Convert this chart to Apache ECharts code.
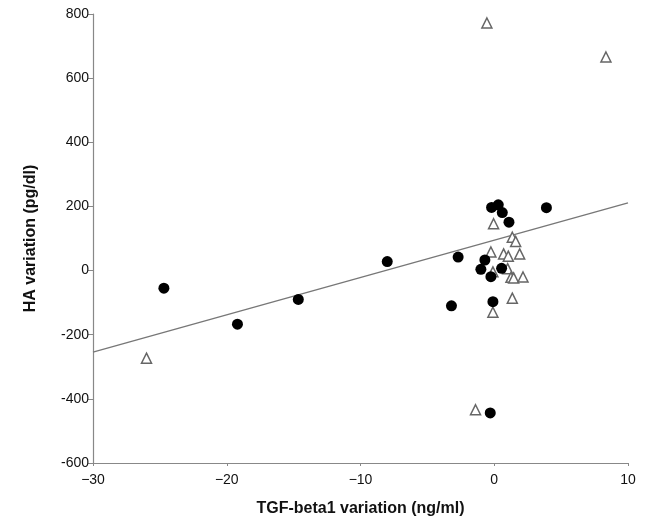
<!DOCTYPE html>
<html>
<head>
<meta charset="utf-8">
<script src="https://cdn.jsdelivr.net/npm/echarts@6/dist/echarts.min.js"></script>
<style>
  html, body { margin: 0; padding: 0; background: #fff; }
  #chart { width: 648px; height: 530px; }
</style>
</head>
<body>
<div id="chart"></div>
<script>
// filled circles: [TGF-beta1 variation, HA variation]
var circlePoints = [
    [-24.7, -55], [-19.2, -167], [-14.65, -90], [-8.0, 28],
    [-2.7, 42], [-3.2, -110], [-1.0, 4], [-0.7, 33],
    [-0.25, -19], [-0.1, -97], [-0.2, 197], [0.3, 205],
    [0.6, 181], [1.1, 151], [3.9, 196], [0.55, 7], [-0.3, -444]
];
// open triangles
var trianglePoints = [
    [-0.55, 772], [8.35, 666], [-26.0, -273], [-1.4, -434],
    [-0.05, 146], [1.35, 104], [1.6, 91], [-0.25, 58],
    [0.7, 52], [1.05, 45], [1.9, 52], [1.0, 6],
    [-0.1, -4], [1.25, -21], [1.45, -23], [2.15, -20],
    [1.35, -86], [-0.1, -130]
];
// regression line end points
var fitLine = [[-30, -254], [10, 211]];

var xTicks = { min: -30, max: 10, interval: 10 };
var yTicks = { min: -600, max: 800, interval: 200 };

var axisFont = 'Liberation Sans, Arial, sans-serif';

var option = {
    backgroundColor: '#fff',
    animation: false,
    grid: { left: 93, right: 20, top: 14, bottom: 67 },
    xAxis: {
        type: 'value',
        min: xTicks.min,
        max: xTicks.max,
        interval: xTicks.interval,
        name: 'TGF-beta1 variation (ng/ml)',
        nameLocation: 'middle',
        nameGap: 38,
        nameTextStyle: { fontSize: 16, fontWeight: 'bold', color: '#111', fontFamily: axisFont },
        axisLine: { onZero: false, lineStyle: { color: '#888', width: 1.2 } },
        axisTick: { show: true, length: 3, lineStyle: { color: '#888' } },
        axisLabel: {
            fontSize: 14, color: '#111', fontFamily: axisFont, margin: 10,
            formatter: function (v) { return v < 0 ? '\u2212' + Math.abs(v) : String(v); }
        },
        splitLine: { show: false }
    },
    yAxis: {
        type: 'value',
        min: yTicks.min,
        max: yTicks.max,
        interval: yTicks.interval,
        name: 'HA variation (pg/dl)',
        nameLocation: 'middle',
        nameGap: 54,
        nameTextStyle: { fontSize: 16, fontWeight: 'bold', color: '#111', fontFamily: axisFont },
        axisLine: { show: true, onZero: false, lineStyle: { color: '#888', width: 1.2 } },
        axisTick: { show: true, length: 5, lineStyle: { color: '#888' } },
        axisLabel: { fontSize: 14, color: '#111', fontFamily: axisFont, margin: 4 },
        splitLine: { show: false }
    },
    series: [{
        type: 'line',
        data: fitLine,
        symbol: 'none',
        lineStyle: { color: '#777', width: 1.3 },
        z: 1
    }, {
        type: 'scatter',
        data: trianglePoints,
        symbol: 'triangle',
        symbolSize: 10,
        itemStyle: { color: '#fff', borderColor: '#666', borderWidth: 1.5, opacity: 1 },
        z: 2
    }, {
        type: 'scatter',
        data: circlePoints,
        symbol: 'circle',
        symbolSize: 11,
        itemStyle: { color: '#000', opacity: 1 },
        z: 3
    }]
};

var myChart = echarts.init(document.getElementById('chart'));
myChart.setOption(option);
</script>
</body>
</html>
